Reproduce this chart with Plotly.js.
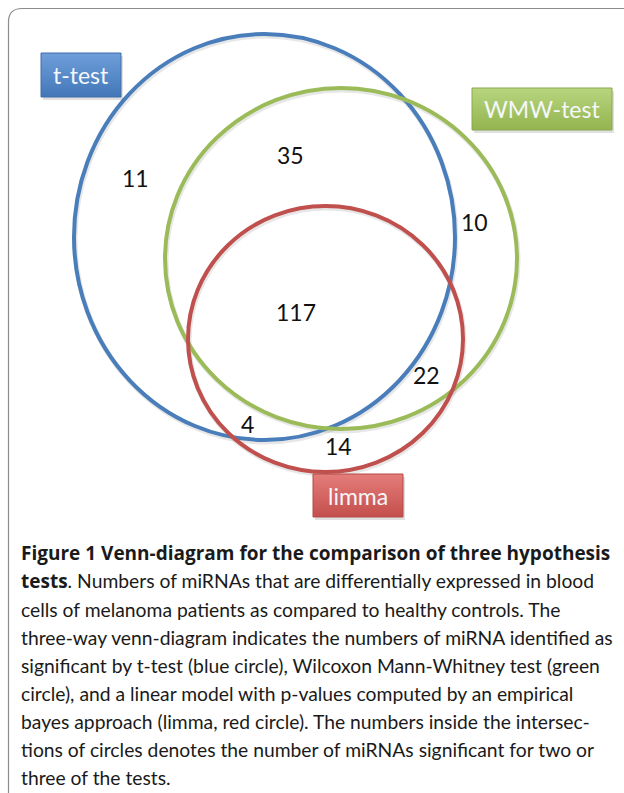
<!DOCTYPE html>
<html><head><meta charset="utf-8">
<script src="https://cdn.plot.ly/plotly-3.0.1.min.js"></script>
<style>html,body{margin:0;padding:0;background:#fff;} #chart{width:624px;height:793px;}</style>
</head><body><div id="chart"></div>
<script>
// ---- data ----
const setNames = ['t-test', 'WMW-test', 'limma'];
const setColors = ['#4a7ebb', '#9bbb59', '#c0504d'];
// circle extents (in the figure's coordinate space)
const circleLeft   = [74, 165, 188];
const circleRight  = [455, 517, 463];
const circleTop    = [34, 88, 206];
const circleBottom = [440, 429, 472];

const regionNames  = ['t-test only', 't-test & WMW', 'WMW only', 'all three', 'WMW & limma', 't-test & limma', 'limma only'];
const regionCounts = [11, 35, 10, 117, 22, 4, 14];
const regionX = [135, 290, 474, 296, 426, 247, 338];
const regionY = [178, 155, 222, 312, 375, 424, 446];

// set label boxes
const labelX0 = [41, 472, 313];
const labelX1 = [121, 612, 403];
const labelY0 = [53, 88, 474];
const labelY1 = [97, 130, 517];
const labelTopColor = ['#6f9fda', '#b8d57e', '#e47d7a'];
const labelBottomColor = ['#4277b8', '#93b450', '#c44f4c'];
const labelBorder = ['#3f6fa8', '#8aa84c', '#b44a47'];

const BOLD = 'font-family:\'Open Sans\';font-weight:bold;font-size:19px';
const captionLines = [
  '<span style="' + BOLD + '">Figure 1 Venn-diagram for the comparison of three hypothesis</span>',
  '<span style="' + BOLD + '">tests</span>. Numbers of miRNAs that are differentially expressed in blood',
  'cells of melanoma patients as compared to healthy controls. The',
  'three-way venn-diagram indicates the numbers of miRNA identified as',
  'significant by t-test (blue circle), Wilcoxon Mann-Whitney test (green',
  'circle), and a linear model with p-values computed by an empirical',
  'bayes approach (limma, red circle). The numbers inside the intersec-',
  'tions of circles denotes the number of miRNAs significant for two or',
  'three of the tests.'
];

// ---- build ----
const shapes = [];
shapes.push({type:'path', xref:'x', yref:'y', path:'M 8.5 793 L 8.5 22 Q 8.5 8.5 22 8.5 L 630 8.5',
  line:{color:'#8c8c8c', width:1.2}});
for (let i = 0; i < setNames.length; i++) {
  shapes.push({type:'circle', xref:'x', yref:'y',
    x0: circleLeft[i]+1, x1: circleRight[i]+1, y0: circleTop[i]+2, y1: circleBottom[i]+2,
    line:{color:'rgba(120,120,120,0.18)', width:5}, layer:'below'});
}
for (let i = 0; i < setNames.length; i++) {
  shapes.push({type:'circle', xref:'x', yref:'y',
    x0: circleLeft[i], x1: circleRight[i], y0: circleTop[i], y1: circleBottom[i],
    line:{color: setColors[i], width:4}, layer:'below'});
}
for (let i = 0; i < setNames.length; i++) {
  shapes.push({type:'rect', xref:'x', yref:'y',
    x0: labelX0[i]+2, x1: labelX1[i]+2, y0: labelY0[i]+3, y1: labelY1[i]+3,
    fillcolor:'rgba(0,0,0,0.12)', line:{width:0}, layer:'below'});
}

// label boxes as filled traces with a vertical gradient
const traces = [];
for (let i = 0; i < setNames.length; i++) {
  traces.push({
    type:'scatter', mode:'lines', hoverinfo:'skip',
    x:[labelX0[i], labelX1[i], labelX1[i], labelX0[i], labelX0[i]],
    y:[labelY0[i], labelY0[i], labelY1[i], labelY1[i], labelY0[i]],
    fill:'toself',
    fillgradient:{type:'vertical', colorscale:[[0, labelTopColor[i]], [1, labelBottomColor[i]]],
                  start: labelY0[i], stop: labelY1[i]},
    line:{color: labelBorder[i], width:1}
  });
}

const annotations = [];
for (let i = 0; i < setNames.length; i++) {
  annotations.push({x:(labelX0[i]+labelX1[i])/2, y:(labelY0[i]+labelY1[i])/2, xref:'x', yref:'y',
    text: setNames[i], showarrow:false, xanchor:'center', yanchor:'middle',
    font:{family:'Lato, "Open Sans", sans-serif', size:23, color:'#f4f7fb'}});
}
for (let i = 0; i < regionCounts.length; i++) {
  annotations.push({x: regionX[i], y: regionY[i], xref:'x', yref:'y',
    text: String(regionCounts[i]), showarrow:false, xanchor:'center', yanchor:'middle',
    font:{family:'Lato, "Open Sans", sans-serif', size:23, color:'#111'}});
}
for (let i = 0; i < captionLines.length; i++) {
  annotations.push({x: 19, y: 553 + i*28, xref:'x', yref:'y',
    text: captionLines[i], showarrow:false, xanchor:'left', yanchor:'middle',
    font:{family:'Lato, "Open Sans", sans-serif', size:19.3, color:'#1a1a1a'}});
}

const layout = {
  width:624, height:793,
  margin:{l:0, r:0, t:0, b:0},
  paper_bgcolor:'#fff', plot_bgcolor:'#fff',
  xaxis:{range:[0,624], visible:false, fixedrange:true},
  yaxis:{range:[793,0], visible:false, fixedrange:true},
  shapes: shapes,
  annotations: annotations,
  showlegend:false
};
Plotly.newPlot('chart', traces, layout, {staticPlot:true, displayModeBar:false});
</script></body></html>
